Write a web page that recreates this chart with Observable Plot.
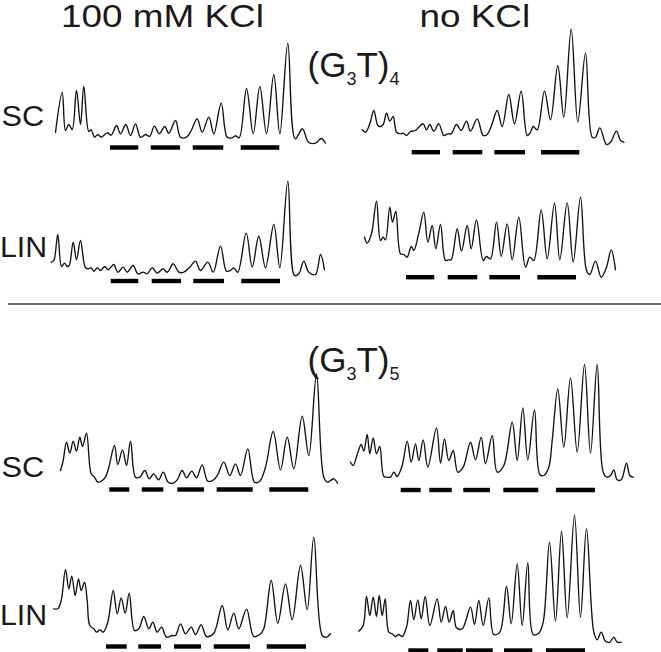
<!DOCTYPE html>
<html><head><meta charset="utf-8">
<script src="https://cdn.jsdelivr.net/npm/d3@7"></script>
<script src="https://cdn.jsdelivr.net/npm/@observablehq/plot@0.6"></script>
<style>
html,body{margin:0;padding:0;background:#fff;}
#fig{position:relative;width:661px;height:652px;overflow:hidden;font-family:"Liberation Sans",Arial,sans-serif;}
.panel{position:absolute;}
.panel svg{overflow:visible;display:block;max-width:none;}
#sep{position:absolute;left:8px;top:303px;width:653px;height:1.5px;background:#666;}
#labels{position:absolute;left:0;top:0;pointer-events:none;}
</style></head><body><div id="fig"><div id="sep"></div></div>
<script>
// ---- Data: densitometry traces [migration, intensity] ----
const g4_kcl_sc = [[5,8],[11.7,48],[15,10],[18.3,16],[21.7,11],[26,50],[30,16],[33.3,54],[38.3,9],[40.7,10.7],[44,3.3],[47.3,6],[50.7,3.3],[56.7,7.7],[60.7,5.3],[66,15],[70,6.7],[75.3,16],[80,5],[85,16.7],[90,3.3],[95,6],[99,4],[104,14.3],[108.7,6.7],[114.3,14],[118.3,7.3],[125,20],[130,3.3],[136,3.3],[140.7,10],[146.7,21.7],[151.7,8.3],[158.3,23.3],[163.3,6.7],[170.7,37.3],[176.7,3.3],[181.7,2.7],[185,4.7],[188.7,2.7],[196,52],[202.7,6.7],[209.3,54],[216,6.7],[223.3,66],[229.3,6.7],[237.3,97.3],[244.7,1.7],[252,11.7],[258,-1.7],[265,-2.7],[270.7,2],[275,-2.7]];
const g4_kcl_lin = [[0.7,13.3],[3.3,15],[7.3,41],[11,9],[14,12.3],[16.7,9],[18.7,10],[22.7,33.3],[26,15.7],[30,35],[35,7.7],[38.3,6.7],[40.7,7.7],[43.3,4.3],[46.7,7.7],[50,5],[54.3,9],[57.7,5.7],[63.3,11],[67.3,3.3],[72.7,8.3],[76.7,3.3],[82.7,10],[87.3,1.7],[92.7,3.3],[96.7,1.7],[101.7,7.7],[106.7,2.3],[112.3,6.7],[116.7,3.3],[122.7,11.7],[128.3,3.3],[133.3,3.3],[139.3,8.3],[145,14.3],[150,5],[157.3,13.3],[162.7,3.3],[170,29.3],[176,4.3],[180,5],[183.3,7.7],[187.3,3.3],[195.7,42.3],[201.7,8.3],[208.3,39.3],[215,7.7],[223.3,51],[229.3,7.7],[237.3,94.3],[244,0],[248.3,1.7],[253.3,14.3],[258.3,3.3],[265,1],[270,21],[274,5.7]];
const g4_nokcl_sc = [[1.7,10.7],[5,8.3],[9.3,16.7],[13.3,30],[17.3,15],[20,14],[22.7,16],[26,27.3],[29.3,19.3],[32.7,24],[36,8.3],[40,6.7],[42.7,7.3],[46,5],[50,9],[55,10],[58.3,13.3],[62.7,16.7],[66,10.7],[69.3,16],[73.3,9.3],[78.3,16.7],[83.3,5],[87.3,6.7],[90.7,6.7],[96,16],[100.7,10],[106,19.3],[110,9.3],[116.7,21.7],[122.7,5],[126.7,6],[130.7,14],[136.7,30],[141.7,14],[148.3,46],[154,16.7],[160.7,49.3],[166.7,5],[170,8.3],[172.7,14],[176.7,10.7],[184,49.3],[190,20.7],[197.3,75],[203.3,23.3],[210.7,111.7],[217.3,18.3],[225,87.3],[231.7,3.3],[235,3.3],[239.3,12.7],[246,-4],[250,-1.7],[256,9.3],[260,0],[263.3,-1.7]];
const g4_nokcl_lin = [[4,38.3],[6.7,32.3],[9.3,36.7],[11.7,45],[16,74.3],[20,35],[22.7,38.3],[25,35.7],[29.3,68.3],[32,53.3],[35.3,64],[40,21.7],[43.3,21],[46.7,18.3],[50.7,29],[53.3,25],[58.3,42.3],[63.3,63.3],[67.3,33.3],[71.7,50],[75.3,26.7],[80,51],[85,15],[88.3,15.7],[90.7,15.7],[96.7,46.7],[101,24.3],[106.7,50],[110.7,26.7],[116,55.7],[122.7,15],[126,19],[130,16.7],[136,53.3],[140.7,19],[146.7,51.7],[151.7,15.7],[158.3,58.3],[165,8.3],[169.3,18.3],[173.3,15],[180.7,65.7],[186.7,16.7],[194,72.3],[199.3,15.7],[206.7,72.7],[212.7,13.3],[220,78.3],[226,5],[229.3,1],[235,14.3],[240.7,-1.7],[246,8.3],[250.7,25.7],[255,5.7]];
const g5_kcl_sc = [[5,15],[7.7,25],[11,43.3],[14.3,32.3],[17.7,44.3],[21,34.3],[24.3,48.3],[27,39],[31,52.3],[35.7,11.7],[39,8.3],[42.3,3.3],[45.7,4.3],[50,8.3],[53.3,18.3],[59,40],[62.3,21],[67,35.7],[71,20],[75,44.3],[80,8.3],[84.3,8.3],[89.3,15],[93.7,6.7],[98.3,11.7],[103,5.7],[107.7,13.3],[112.7,3.3],[117.7,2.3],[121.7,5.7],[126.7,15],[131,7.7],[136.3,14.3],[141,7.7],[146.7,20.7],[152.3,4.3],[158.3,5.7],[162.3,11],[168.3,23.3],[174.3,10],[180,21.7],[185,10],[192.3,36.7],[199,3.3],[204.3,4.3],[210,18.3],[217.7,54],[225,15.7],[231.7,48.3],[238.3,16.7],[246.7,69.3],[253.3,30],[261,111.5],[268.3,8.3],[272.3,3.3],[275,5],[278.3,6.7],[282,2.3]];
const g5_nokcl_sc = [[5,23.3],[7.7,20],[11.7,31],[15.7,41],[18.3,34.3],[21.7,51],[24.3,31.7],[27.7,47.7],[31,31.7],[34.3,39],[38.3,9],[41.7,8.3],[45,8.3],[48.3,13.3],[51.7,9],[56.7,20],[61.7,44.3],[65.7,23.3],[70,41.7],[73.3,25],[77.7,45.7],[82.3,18.3],[91,57.7],[95,22.3],[99,46.7],[103.3,25],[107.7,35],[112.3,13.3],[117.7,18.3],[125,43.3],[130,25.7],[135.7,48.3],[140,21.7],[146.7,50],[151.7,13.3],[158.3,20],[166.7,63.3],[171.7,25],[177.3,77.7],[182.3,25.7],[189,75.7],[194.3,11],[198.3,10],[203.3,18.3],[206.7,45],[212.3,96.7],[218.3,38.3],[225,107.7],[231.7,33.3],[239,121],[245,32.3],[251.7,121],[257.7,13.3],[261.7,8.3],[265,10],[268.3,15.7],[271.7,5.7],[275.7,5.7],[281,22.3],[284.3,10],[287.7,8.3]];
const g5_kcl_lin = [[3.3,26.7],[7.3,26.7],[10.7,35],[15,66],[18.3,46.7],[21.3,59.3],[24.7,40],[28,56.7],[30.7,45],[34,53.3],[36.7,35],[39.3,10],[43.3,6.7],[46,3.3],[49.3,5.7],[52.7,3.3],[57.3,13.3],[62.7,45],[66.7,21.7],[70.7,37.7],[74.7,22.3],[78.7,42.3],[84,5],[88.3,6.7],[93.3,19],[98.3,6.7],[102.3,13.3],[106.7,3.3],[111,8.3],[116,-1.7],[121.7,0],[125,0],[130,11.7],[135,1.7],[140.7,8.3],[145,1],[150.7,10.7],[156,-1],[163.3,2.3],[171.7,30],[177.3,5.7],[183.3,22.3],[188.3,6.7],[196,26.3],[203.3,-1],[209.3,1],[213.3,6.7],[220.7,55],[227.3,12.3],[235,51.7],[241.7,15.7],[250,70],[256.7,25.7],[263.3,98.3],[271.7,0],[276,-1.7],[280,1.7]];
const g5_nokcl_lin = [[8.3,4.3],[12.7,10],[16,39],[19.3,20],[22.7,38.3],[26,19],[28.7,40],[31.7,20],[34.7,36.7],[38.3,3.3],[41.7,1.7],[45,-1],[48.3,1],[51.7,-1],[56,8.3],[60,35],[63.3,15.7],[67.3,35.7],[70.7,16.7],[74.7,39],[79.3,10],[86.7,36.7],[90.7,13.3],[95,29],[98.7,13.3],[102.7,25],[106,7.7],[111.7,6.7],[120,28.3],[124,11],[128.3,35],[132.7,10],[138.3,37.7],[143.3,1],[149.3,3.3],[156,49],[160.7,11.7],[166.7,71.7],[171.7,10],[177.3,72.7],[182.7,1],[188.3,2.3],[192.7,13.3],[199,93.3],[205,14.3],[211,104.3],[216.7,17.7],[224,120],[230,18.3],[236,106.7],[243.3,3.3],[246.7,-4.3],[250.7,3.3],[255,-5.7],[259.3,-6.7],[263.3,-1.7],[266.7,-6.7],[270.7,-6.7]];

// ---- Data: band groups marked by bars [start, end] in migration units ----
const bars_g4_kcl_sc = [[60,88.3],[100.7,130],[142.7,173.3],[190.7,229.3]];
const bars_g4_kcl_lin = [[60.7,88.3],[101.7,131],[143.3,174],[191.3,230]];
const bars_g4_nokcl_sc = [[51.7,80],[92.7,122.3],[134.3,165],[181,219.3]];
const bars_g4_nokcl_lin = [[46,74.3],[87.7,117.3],[129.3,160],[177.3,216]];
const bars_g5_kcl_sc = [[54.3,74.3],[86.7,108.3],[122.3,149],[161.7,197.7],[214.3,253.3]];
const bars_g5_nokcl_sc = [[55.7,75.7],[84.3,106.7],[118.3,145],[158.3,193.3],[211,250]];
const bars_g5_kcl_lin = [[56,76.7],[88.3,111],[124,151],[163.7,200],[216.7,256]];
const bars_g5_nokcl_lin = [[58.3,78.3],[87.3,112.7],[116,142.7],[154,182.3],[196,235]];

// ---- Text ----
const conditions = ["100 mM KCl", "no KCl"];
const forms = ["SC", "LIN"];
const repeats = ["4", "5"];

// ---- Layout (positions/sizes) ----
const layout = [
  {trace: g4_kcl_sc,    bars: bars_g4_kcl_sc,    barY: -7,    left: 50,  base: 140, width: 280, above: 102, below: 12},
  {trace: g4_kcl_lin,   bars: bars_g4_kcl_lin,   barY: -5.5,  left: 50,  base: 275, width: 280, above: 98,  below: 10},
  {trace: g4_nokcl_sc,  bars: bars_g4_nokcl_sc,  barY: -11.7, left: 360, base: 140, width: 270, above: 116, below: 16},
  {trace: g4_nokcl_lin, bars: bars_g4_nokcl_lin, barY: -1.7,  left: 360, base: 275, width: 262, above: 82,  below: 6},
  {trace: g5_kcl_sc,    bars: bars_g5_kcl_sc,    barY: -4,    left: 55,  base: 485, width: 290, above: 116, below: 8},
  {trace: g5_nokcl_sc,  bars: bars_g5_nokcl_sc,  barY: -4.5,  left: 345, base: 485, width: 295, above: 125, below: 8},
  {trace: g5_kcl_lin,   bars: bars_g5_kcl_lin,   barY: -11,   left: 50,  base: 635, width: 285, above: 102, below: 15},
  {trace: g5_nokcl_lin, bars: bars_g5_nokcl_lin, barY: -15,   left: 350, base: 635, width: 275, above: 124, below: 17}
];

const fig = document.getElementById("fig");
for (const p of layout) {
  const chart = Plot.plot({
    width: p.width,
    height: p.above + p.below,
    margin: 0,
    x: {domain: [0, p.width], axis: null},
    y: {domain: [-p.below, p.above], axis: null},
    style: {background: "transparent", overflow: "visible"},
    marks: [
      Plot.line(p.trace, {x: d => d[0], y: d => d[1], curve: "catmull-rom", stroke: "#111", strokeWidth: 1.35}),
      Plot.ruleY(p.bars, {y: () => p.barY, x1: d => d[0], x2: d => d[1], stroke: "#000", strokeWidth: 4.4, strokeLinecap: "butt"})
    ]
  });
  const div = document.createElement("div");
  div.className = "panel";
  div.style.left = p.left + "px";
  div.style.top = (p.base - p.above) + "px";
  div.style.width = p.width + "px";
  div.appendChild(chart);
  fig.appendChild(div);
}

// ---- Labels overlay ----
const svg = d3.select(fig).append("svg").attr("id", "labels")
  .attr("width", 661).attr("height", 652)
  .style("font-family", '"Liberation Sans", Arial, sans-serif').style("fill", "#1a1a1a");

const head = [{t: conditions[0], x: 61, y: 27}, {t: conditions[1], x: 419.5, y: 27}];
for (const h of head) {
  svg.append("text").attr("transform", `translate(${h.x},${h.y}) scale(1.19,1)`)
    .attr("font-size", 31).text(h.t);
}
const rowLab = [
  {t: forms[0], x: 1.5, y: 126, s: 29, k: 1.06},
  {t: forms[1], x: 0, y: 257, s: 30, k: 1.01},
  {t: forms[0], x: 1.5, y: 477, s: 29, k: 1.06},
  {t: forms[1], x: 0, y: 625, s: 30, k: 1.01}
];
for (const r of rowLab) {
  svg.append("text").attr("transform", `translate(${r.x},${r.y}) scale(${r.k},1)`)
    .attr("font-size", r.s).text(r.t);
}
const titles = [{n: repeats[0], x: 307.5, y: 77}, {n: repeats[1], x: 307.5, y: 372}];
for (const t of titles) {
  const tx = svg.append("text").attr("x", t.x).attr("y", t.y).attr("font-size", 35);
  tx.append("tspan").text("(G");
  tx.append("tspan").attr("font-size", 18).attr("dy", 8).text("3");
  tx.append("tspan").attr("dy", -8).text("T)");
  tx.append("tspan").attr("font-size", 18).attr("dy", 8).text(t.n);
}
</script></body></html>
